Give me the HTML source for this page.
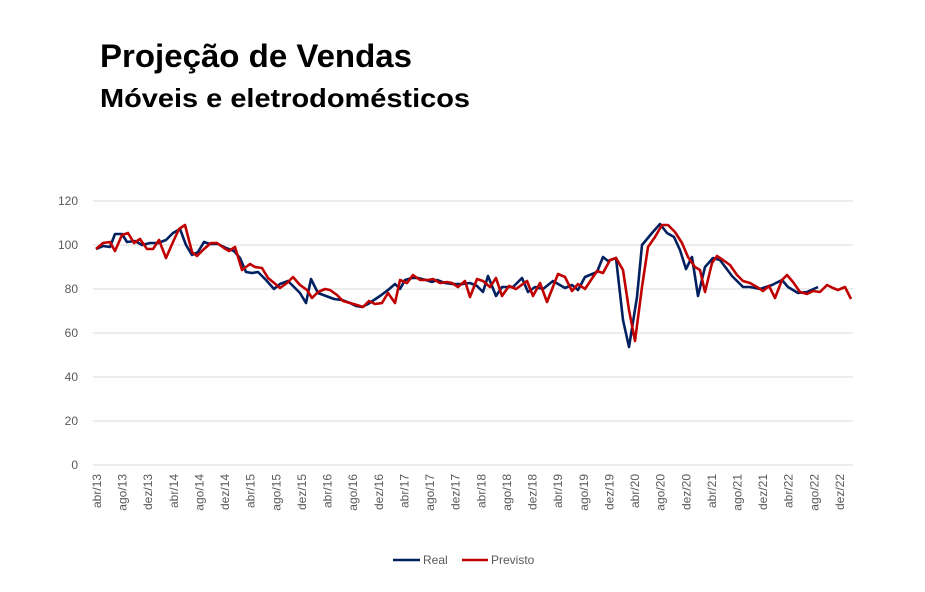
<!DOCTYPE html>
<html><head><meta charset="utf-8"><style>
body{margin:0;background:#fff;width:925px;height:587px;overflow:hidden;font-family:"Liberation Sans",sans-serif}
</style></head><body>
<svg width="925" height="587" xmlns="http://www.w3.org/2000/svg" font-family="Liberation Sans, sans-serif">
<text x="100" y="67" font-size="32" font-weight="bold" fill="#000" textLength="312" lengthAdjust="spacingAndGlyphs">Projeção de Vendas</text>
<text x="100" y="107" font-size="26" font-weight="bold" fill="#000" textLength="370" lengthAdjust="spacingAndGlyphs">Móveis e eletrodomésticos</text>
<g stroke="#d9d9d9" stroke-width="1">
<line x1="93" x2="853" y1="201" y2="201"/><line x1="93" x2="853" y1="245" y2="245"/>
<line x1="93" x2="853" y1="289" y2="289"/><line x1="93" x2="853" y1="333" y2="333"/>
<line x1="93" x2="853" y1="377" y2="377"/><line x1="93" x2="853" y1="421" y2="421"/>
<line x1="93" x2="853" y1="465" y2="465"/>
</g>
<g font-size="12" fill="#595959" text-anchor="end">
<text x="78" y="205">120</text><text x="78" y="249">100</text><text x="78" y="293">80</text>
<text x="78" y="337">60</text><text x="78" y="381">40</text><text x="78" y="425">20</text><text x="78" y="469">0</text>
</g>
<g font-size="12" fill="#595959" text-anchor="end" id="xl"></g>
<polyline fill="none" stroke="#002060" stroke-width="2.6" stroke-linejoin="round" points="96,249 103,246 110,247 115,234 122,234 127,242 135,241 142,245 150,243 158,243 166,240 173,233 180,229 186,245 192,255 198,252 204,242 210,244 218,244 226,248 234,251 240,258 246,272 252,273 258,272 266,280 274,289 280,284 288,281 294,287 300,293 306,303 311,279 318,293 326,296 334,299 342,300 350,303 356,306 362,307 368,304 374,300 380,296 388,290 395,284 400,289 405,280 412,278 418,278 426,280 432,282 437,280 445,283 452,284 456,284 463,284 470,283 477,286 483,292 488,276 496,296 502,287 513,287 522,278 528,292 535,287 543,289 553,281 565,288 572,285 578,290 585,277 597,272 603,257 608,261 616,258 623,320 629,347 637,297 642,245 652,233 660,224 667,233 674,237 680,250 686,269 692,257 698,296 705,267 713,258 720,260 732,276 743,287 750,287 760,289 772,285 782,280 788,287 798,293 807,292 818,287"/>
<polyline fill="none" stroke="#c00000" stroke-width="2.6" stroke-linejoin="round" points="96,249 103,243 110,242 115,251 122,235 128,233 134,243 140,239 147,249 153,249 159,240 166,258 173,242 179,229 185,225 192,252 197,256 204,249 211,243 217,243 224,248 229,251 235,247 242,270 250,264 255,267 262,268 268,278 273,282 280,288 287,283 293,277 300,285 307,290 312,298 318,292 325,289 330,290 337,295 343,301 350,303 357,305 363,307 369,301 375,304 382,303 388,293 395,303 400,280 407,283 413,275 420,280 428,280 433,279 440,283 447,282 452,283 458,287 465,281 470,297 477,279 483,281 490,287 496,278 502,296 509,286 516,289 527,281 533,296 540,283 547,302 558,274 565,277 572,291 578,284 585,289 597,271 603,273 610,260 616,258 623,270 629,310 635,341 642,287 648,247 655,237 662,225 668,225 675,232 682,243 688,257 695,267 700,270 705,292 712,263 717,256 723,260 730,265 737,275 743,281 750,283 757,287 763,291 769,286 775,298 782,280 787,275 793,282 800,292 807,294 813,291 820,292 827,285 833,288 838,290 845,287 851,299"/>
<line x1="393" x2="420" y1="560" y2="560" stroke="#002060" stroke-width="2.6"/>
<text x="423" y="564" font-size="12" fill="#595959">Real</text>
<line x1="462" x2="488" y1="560" y2="560" stroke="#c00000" stroke-width="2.6"/>
<text x="491" y="564" font-size="12" fill="#595959">Previsto</text>
</svg>
<script>
var m=["abr","ago","dez"],g=document.getElementById("xl"),s="";
for(var k=0;k<30;k++){var yr=13+Math.floor(k/3),x=97+25.62*k+4;
s+='<text transform="translate('+x.toFixed(1)+',474) rotate(-90)">'+m[k%3]+'/'+yr+'</text>';}
g.innerHTML=s;
</script>
</body></html>
